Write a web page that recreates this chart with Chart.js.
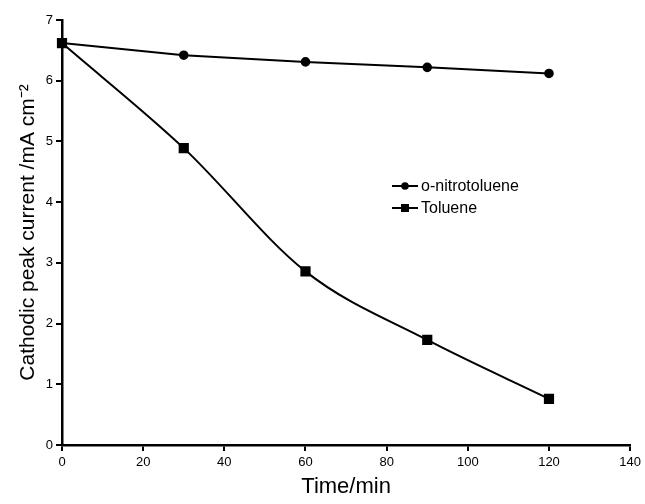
<!DOCTYPE html>
<html>
<head>
<meta charset="utf-8">
<script src="https://cdn.jsdelivr.net/npm/chart.js@4/dist/chart.umd.min.js"></script>
<style>
  html, body { margin: 0; padding: 0; background: #fff; }
  #wrap { width: 645px; height: 504px; }
</style>
</head>
<body>
<div id="wrap"><canvas id="chartCanvas" width="645" height="504"></canvas></div>
<script>
const times = [0, 30, 60, 90, 120];
const nitrotoluene = [6.62, 6.42, 6.31, 6.22, 6.12];
const toluene = [6.62, 4.89, 2.86, 1.73, 0.76];
const xTicks = [0, 20, 40, 60, 80, 100, 120, 140];
const yTicks = [0, 1, 2, 3, 4, 5, 6, 7];

const toPoints = (values) => times.map((t, i) => ({ x: t, y: values[i] }));

// legend drawn inside the plot, line + marker like the original
const innerLegend = {
  id: 'innerLegend',
  afterDraw(chart) {
    const ctx = chart.ctx;
    const items = [
      { label: 'o-nitrotoluene', style: 'circle' },
      { label: 'Toluene', style: 'rect' },
    ];
    ctx.save();
    ctx.font = '16px "Liberation Sans", Arial, sans-serif';
    ctx.textBaseline = 'middle';
    items.forEach((item, i) => {
      const y = 186 + i * 22;
      ctx.strokeStyle = '#000';
      ctx.lineWidth = 2;
      ctx.beginPath();
      ctx.moveTo(392, y);
      ctx.lineTo(418, y);
      ctx.stroke();
      ctx.fillStyle = '#000';
      if (item.style === 'circle') {
        ctx.beginPath();
        ctx.arc(405, y, 3.8, 0, Math.PI * 2);
        ctx.fill();
      } else {
        ctx.fillRect(401, y - 4, 8, 8);
      }
      ctx.fillText(item.label, 421, y + 1);
    });
    ctx.restore();
  },
};

const drawChart = () => {
  const ctx = document.getElementById('chartCanvas').getContext('2d');

  new Chart(ctx, {
    type: 'line',
    data: {
      datasets: [
        {
          label: 'o-nitrotoluene',
          data: toPoints(nitrotoluene),
          borderColor: '#000',
          backgroundColor: '#000',
          borderWidth: 2,
          pointStyle: 'circle',
          pointRadius: 3.8,
          tension: 0,
        },
        {
          label: 'Toluene',
          data: toPoints(toluene),
          borderColor: '#000',
          backgroundColor: '#000',
          borderWidth: 2,
          pointStyle: 'rect',
          pointRadius: 5.8,
          cubicInterpolationMode: 'monotone',
        },
      ],
    },
    options: {
      responsive: false,
      animation: false,
      clip: false,
      layout: { padding: { top: 20, right: 14, left: 0, bottom: 0 } },
      plugins: {
        legend: { display: false },
        tooltip: { enabled: false },
      },
      scales: {
        x: {
          type: 'linear',
          min: 0,
          max: 140,
          afterBuildTicks: (axis) => { axis.ticks = xTicks.map((v) => ({ value: v })); },
          afterFit: (axis) => { axis.height = 59; },
          border: { color: '#000', width: 2.5 },
          grid: { drawOnChartArea: false, color: '#000', lineWidth: 2, tickLength: 6 },
          ticks: {
            color: '#000',
            padding: 4,
            font: { family: '"Liberation Sans", Arial, sans-serif', size: 13 },
          },
          title: {
            display: true,
            text: 'Time/min',
            color: '#000',
            padding: { top: 6 },
            font: { family: '"Liberation Sans", Arial, sans-serif', size: 22 },
          },
        },
        y: {
          min: 0,
          max: 7,
          afterBuildTicks: (axis) => { axis.ticks = yTicks.map((v) => ({ value: v })); },
          afterFit: (axis) => { axis.width = 62; },
          border: { color: '#000', width: 2.5 },
          grid: { drawOnChartArea: false, color: '#000', lineWidth: 2, tickLength: 6 },
          ticks: {
            color: '#000',
            padding: 3,
            font: { family: '"Liberation Sans", Arial, sans-serif', size: 13 },
          },
          title: {
            display: true,
            text: 'Cathodic peak current /mA cm⁻²',
            color: '#000',
            padding: { top: 16 },
            font: { family: '"Liberation Sans", Arial, sans-serif', size: 21 },
          },
        },
      },
    },
    plugins: [innerLegend],
  });
};

drawChart();
</script>
</body>
</html>
